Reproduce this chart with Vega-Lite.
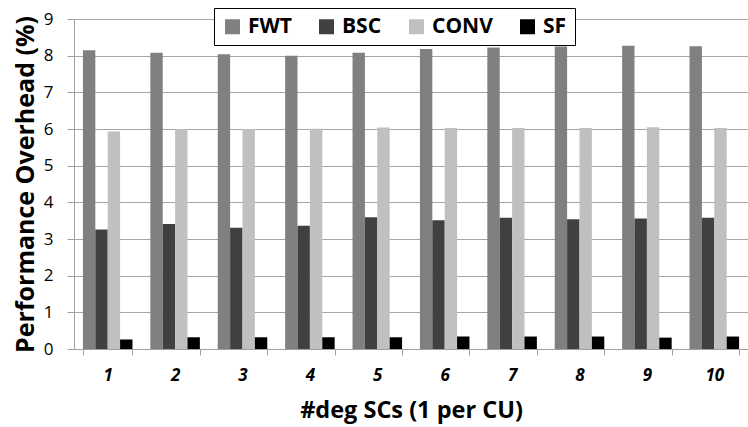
{
  "$schema": "https://vega.github.io/schema/vega-lite/v6.json",
  "width": 674,
  "height": 330,
  "autosize": {"type": "none"},
  "padding": {"left": 74, "top": 19, "right": 0, "bottom": 78},
  "background": "white",
  "data": {
    "values": [
      {"n": 1, "series": "FWT", "value": 8.15}, {"n": 1, "series": "BSC", "value": 3.26}, {"n": 1, "series": "CONV", "value": 5.93}, {"n": 1, "series": "SF", "value": 0.26},
      {"n": 2, "series": "FWT", "value": 8.08}, {"n": 2, "series": "BSC", "value": 3.41}, {"n": 2, "series": "CONV", "value": 5.99}, {"n": 2, "series": "SF", "value": 0.32},
      {"n": 3, "series": "FWT", "value": 8.04}, {"n": 3, "series": "BSC", "value": 3.31}, {"n": 3, "series": "CONV", "value": 6.0}, {"n": 3, "series": "SF", "value": 0.32},
      {"n": 4, "series": "FWT", "value": 8.0}, {"n": 4, "series": "BSC", "value": 3.36}, {"n": 4, "series": "CONV", "value": 6.01}, {"n": 4, "series": "SF", "value": 0.32},
      {"n": 5, "series": "FWT", "value": 8.08}, {"n": 5, "series": "BSC", "value": 3.59}, {"n": 5, "series": "CONV", "value": 6.04}, {"n": 5, "series": "SF", "value": 0.32},
      {"n": 6, "series": "FWT", "value": 8.18}, {"n": 6, "series": "BSC", "value": 3.51}, {"n": 6, "series": "CONV", "value": 6.03}, {"n": 6, "series": "SF", "value": 0.34},
      {"n": 7, "series": "FWT", "value": 8.22}, {"n": 7, "series": "BSC", "value": 3.58}, {"n": 7, "series": "CONV", "value": 6.03}, {"n": 7, "series": "SF", "value": 0.34},
      {"n": 8, "series": "FWT", "value": 8.25}, {"n": 8, "series": "BSC", "value": 3.54}, {"n": 8, "series": "CONV", "value": 6.03}, {"n": 8, "series": "SF", "value": 0.34},
      {"n": 9, "series": "FWT", "value": 8.27}, {"n": 9, "series": "BSC", "value": 3.56}, {"n": 9, "series": "CONV", "value": 6.05}, {"n": 9, "series": "SF", "value": 0.31},
      {"n": 10, "series": "FWT", "value": 8.26}, {"n": 10, "series": "BSC", "value": 3.58}, {"n": 10, "series": "CONV", "value": 6.03}, {"n": 10, "series": "SF", "value": 0.34}
    ]
  },
  "mark": {"type": "bar"},
  "encoding": {
    "x": {
      "field": "n",
      "type": "ordinal",
      "scale": {"paddingInner": 0.265, "paddingOuter": 0.1325},
      "axis": {
        "title": "#deg SCs (1 per CU)",
        "titleFont": "Open Sans",
        "titleFontSize": 23.5,
        "titleFontWeight": "bold",
        "titleColor": "black",
        "titlePadding": 15,
        "labelAngle": 0,
        "labelFont": "Open Sans",
        "labelFontSize": 17,
        "labelFontWeight": "bold",
        "labelFontStyle": "italic",
        "labelColor": "black",
        "labelPadding": 12,
        "tickBand": "extent",
        "tickSize": 6,
        "tickColor": "#a0a0a0",
        "domainColor": "#a0a0a0",
        "grid": false
      }
    },
    "xOffset": {
      "field": "series",
      "type": "nominal",
      "sort": ["FWT", "BSC", "CONV", "SF"],
      "scale": {"paddingInner": 0, "paddingOuter": 0}
    },
    "y": {
      "field": "value",
      "type": "quantitative",
      "scale": {"domain": [0, 9], "nice": false},
      "axis": {
        "title": "Performance Overhead (%)",
        "titleFont": "Open Sans",
        "titleFontSize": 25,
        "titleFontWeight": "bold",
        "titleColor": "black",
        "titlePadding": 5,
        "values": [0, 1, 2, 3, 4, 5, 6, 7, 8, 9],
        "labelFont": "Open Sans",
        "labelFontSize": 17,
        "labelColor": "black",
        "labelPadding": 14,
        "tickSize": 7,
        "tickColor": "#a0a0a0",
        "domainColor": "#a0a0a0",
        "grid": true,
        "gridColor": "#a6a6a6",
        "gridWidth": 1
      }
    },
    "color": {
      "field": "series",
      "type": "nominal",
      "sort": ["FWT", "BSC", "CONV", "SF"],
      "scale": {"domain": ["FWT", "BSC", "CONV", "SF"], "range": ["#808080", "#404040", "#c0c0c0", "#000000"]},
      "legend": {
        "title": null,
        "orient": "none",
        "legendX": 140,
        "legendY": -11,
        "direction": "horizontal",
        "symbolType": "square",
        "symbolSize": 225,
        "symbolStrokeWidth": 0,
        "labelFont": "Open Sans",
        "labelFontSize": 21,
        "labelFontWeight": "bold",
        "labelColor": "black",
        "labelOffset": 5,
        "columnPadding": 24,
        "padding": 8,
        "strokeColor": "black",
        "fillColor": "white"
      }
    }
  },
  "config": {"view": {"stroke": null}}
}
